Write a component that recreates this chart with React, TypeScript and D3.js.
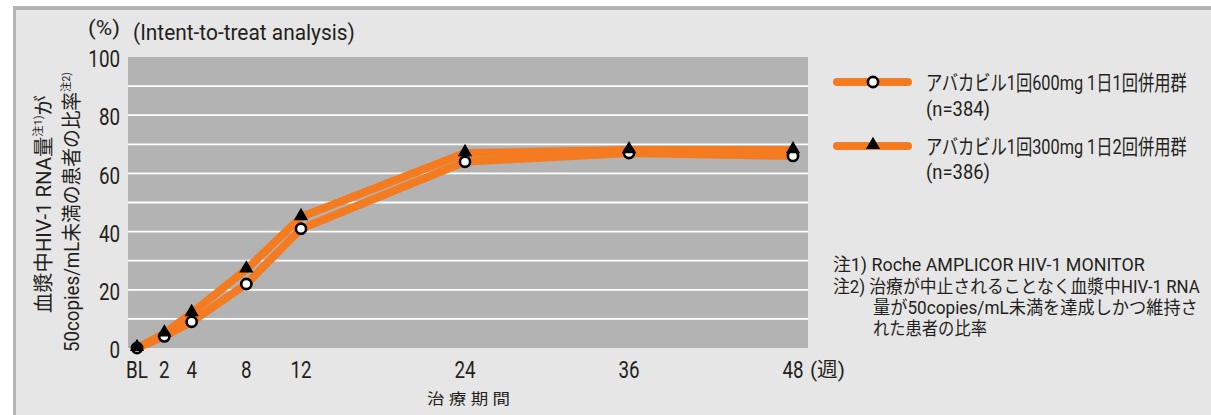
import React, { useLayoutEffect, useRef, useState } from "react";
import * as d3 from "d3";

// Weeks on treatment and share of patients below 50 copies/mL (%)
const weeks = [0, 2, 4, 8, 12, 24, 36, 48];
const weekLabels = ["BL", "2", "4", "8", "12", "24", "36", "48"];
const onceDaily = [0, 4, 9, 22, 41, 64, 67, 66];
const twiceDaily = [0, 5, 12, 27, 45, 67, 68, 68];
const yTicks = [0, 20, 40, 60, 80, 100];
const gridValues = [10, 20, 30, 40, 50, 60, 70, 80, 90];

const W = 1211;
const H = 415;
const ORANGE = "#f47b20";
const TEXT = "#231f20";
const FONT = "Roboto, 'Noto Sans CJK JP', sans-serif";

const plot = { left: 128, right: 808, top: 57, bottom: 348 };

type FitProps = {
  x: number;
  y: number;
  size: number;
  w?: number; // target width in px
  sx?: number; // fixed horizontal squeeze
  anchor?: "start" | "middle" | "end";
  baseline?: "central" | "auto";
  rotate?: number;
  children: React.ReactNode;
};

// Text squeezed horizontally to a condensed look, either to a given width or by a fixed factor.
function FitText({ x, y, size, w, sx, anchor = "start", baseline = "auto", rotate = 0, children }: FitProps) {
  const ref = useRef<SVGTextElement>(null);
  const [scale, setScale] = useState(sx ?? 1);
  useLayoutEffect(() => {
    if (w && ref.current) {
      const len = ref.current.getComputedTextLength();
      if (len > 0) setScale(w / len);
    }
  }, [w]);
  return (
    <g transform={`translate(${x},${y}) rotate(${rotate}) scale(${scale},1)`}>
      <text
        ref={ref}
        x={0}
        y={0}
        fontSize={size}
        fill={TEXT}
        textAnchor={anchor}
        dominantBaseline={baseline}
      >
        {children}
      </text>
    </g>
  );
}

export default function App() {
  const x = d3.scaleLinear().domain([0, 48]).range([137, 793]);
  const y = d3.scaleLinear().domain([0, 100]).range([plot.bottom, plot.top]);
  const line = d3
    .line<number>()
    .x((_, i) => x(weeks[i]))
    .y((d) => y(d));

  const tri = d3.symbol().type(d3.symbolTriangle).size(88)() || "";

  return (
    <div style={{ position: "absolute", left: 0, top: 0 }}>
      <svg width={W} height={H} style={{ display: "block", fontFamily: FONT }}>
        <rect x={0} y={0} width={W} height={H} fill="#ffffff" />
        {/* frame */}
        <rect x={13} y={6} width={W - 13} height={H - 6} fill="#b3b3b3" />
        <rect x={16} y={10} width={W - 16} height={H - 10} fill="#e6e6e6" />

        {/* plot area */}
        <rect
          x={plot.left}
          y={plot.top}
          width={plot.right - plot.left}
          height={plot.bottom - plot.top}
          fill="#b3b3b3"
        />
        {gridValues.map((g) => (
          <line
            key={g}
            x1={plot.left}
            x2={plot.right}
            y1={y(g)}
            y2={y(g)}
            stroke="#ffffff"
            strokeWidth={1.8}
          />
        ))}

        {/* y tick labels */}
        {yTicks.map((t) => (
          <FitText key={t} x={120} y={y(t) + 2} size={23.5} sx={0.8} anchor="end" baseline="central">
            {t}
          </FitText>
        ))}
        <FitText x={88} y={35} size={20} w={32}>
          (%)
        </FitText>
        <FitText x={133} y={40} size={22} w={222}>
          (Intent-to-treat analysis)
        </FitText>

        {/* x tick labels */}
        {weeks.map((w, i) => (
          <FitText key={w} x={x(w)} y={378} size={23.5} sx={0.8} anchor="middle">
            {weekLabels[i]}
          </FitText>
        ))}
        <FitText x={810} y={377} size={20} w={35}>
          (週)
        </FitText>
        <FitText x={427} y={404} size={15} w={83}>
          治 療 期 間
        </FitText>

        {/* y axis title */}
        <FitText x={44} y={313} size={20} w={218} rotate={-90} baseline="central">
          血漿中HIV-1 RNA量
          <tspan fontSize={11} dy={-6}>注1)</tspan>
          <tspan dy={6}>が</tspan>
        </FitText>
        <FitText x={72} y={352} size={20} w={280} rotate={-90} baseline="central">
          50copies/mL未満の患者の比率
          <tspan fontSize={11} dy={-6}>注2)</tspan>
        </FitText>

        {/* series lines */}
        <path d={line(onceDaily) || ""} fill="none" stroke={ORANGE} strokeWidth={8} strokeLinejoin="round" strokeLinecap="round" />
        <path d={line(twiceDaily) || ""} fill="none" stroke={ORANGE} strokeWidth={8} strokeLinejoin="round" strokeLinecap="round" />

        {/* markers */}
        {onceDaily.map((v, i) => (
          <circle key={"c" + i} cx={x(weeks[i])} cy={y(v)} r={5.1} fill="#ffffff" stroke="#000000" strokeWidth={2.6} />
        ))}
        {twiceDaily.map((v, i) => (
          <path key={"t" + i} d={tri} transform={`translate(${x(weeks[i])},${y(v) - 1})`} fill="#000000" />
        ))}

        {/* legend */}
        <line x1={837} x2={908} y1={82} y2={82} stroke={ORANGE} strokeWidth={8} strokeLinecap="round" />
        <circle cx={873} cy={82} r={5.1} fill="#ffffff" stroke="#000000" strokeWidth={2.6} />
        <FitText x={926} y={90} size={21} w={261}>
          アバカビル1回600mg 1日1回併用群
        </FitText>
        <FitText x={926} y={116} size={21} w={64}>
          (n=384)
        </FitText>

        <line x1={837} x2={908} y1={146} y2={146} stroke={ORANGE} strokeWidth={8} strokeLinecap="round" />
        <path d={tri} transform="translate(873,145)" fill="#000000" />
        <FitText x={926} y={154} size={21} w={261}>
          アバカビル1回300mg 1日2回併用群
        </FitText>
        <FitText x={926} y={179} size={21} w={64}>
          (n=386)
        </FitText>

        {/* notes */}
        <FitText x={833} y={271} size={18} w={312}>
          注1) Roche AMPLICOR HIV-1 MONITOR
        </FitText>
        <FitText x={833} y={293} size={18} w={367}>
          注2) 治療が中止されることなく血漿中HIV-1 RNA
        </FitText>
        <FitText x={873} y={314} size={18} w={325}>
          量が50copies/mL未満を達成しかつ維持さ
        </FitText>
        <FitText x={873} y={335} size={18} w={114}>
          れた患者の比率
        </FitText>
      </svg>
    </div>
  );
}
